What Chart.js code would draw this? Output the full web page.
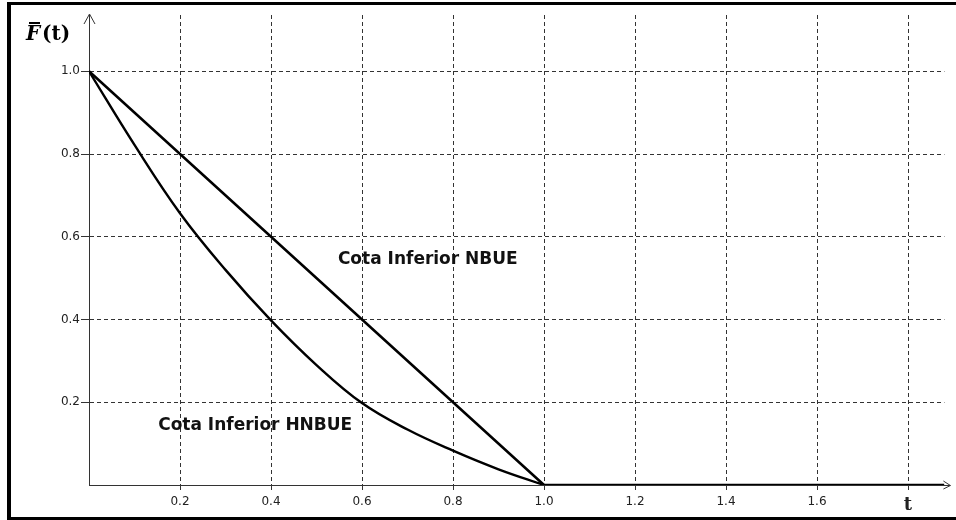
<!DOCTYPE html>
<html>
<head>
<meta charset="utf-8">
<script src="https://cdn.jsdelivr.net/npm/chart.js@4.4.1/dist/chart.umd.min.js"></script>
<style>
  body { margin: 0; background: #fff; }
  #wrap { width: 956px; height: 520px; position: relative; }
</style>
</head>
<body>
<div id="wrap"><canvas id="chart"></canvas></div>
<script>
// t values and survival bounds
const nbueT = [0, 1.0, 1.88];
const nbueF = [1, 0, 0];
const hnbueT = [0, 0.1, 0.2, 0.3, 0.4, 0.5, 0.6, 0.7, 0.8, 0.9, 1.0];
const hnbueF = [1, 0.822, 0.657, 0.52, 0.398, 0.29, 0.198, 0.134, 0.083, 0.038, 0];

const xTicks = [0.2, 0.4, 0.6, 0.8, 1.0, 1.2, 1.4, 1.6, 1.8];
const xTickLabels = ['0.2', '0.4', '0.6', '0.8', '1.0', '1.2', '1.4', '1.6', 't'];
const yTicks = [0.2, 0.4, 0.6, 0.8, 1.0];
const yTickLabels = ['0.2', '0.4', '0.6', '0.8', '1.0'];

const curveLabels = ['Cota Inferior NBUE', 'Cota Inferior HNBUE'];

const toPoints = (xs, ys) => xs.map((x, i) => ({ x: x, y: ys[i] }));

const tickFont = { family: 'DejaVu Sans', size: 12 };

// frame, arrows, axis title and curve names
const decor = {
  id: 'decor',
  beforeDraw(chart) {
    const c = chart.ctx;
    c.save();
    c.fillStyle = '#fff';
    c.fillRect(0, 0, chart.width, chart.height);
    c.fillStyle = '#000';
    c.fillRect(7, 2, 4, 518);
    c.fillRect(7, 2, 949, 3);
    c.fillRect(7, 517, 949, 3);
    c.restore();
  },
  afterDraw(chart) {
    const c = chart.ctx;
    const a = chart.chartArea;
    const xs = chart.scales.x, ys = chart.scales.y;
    c.save();
    c.strokeStyle = '#333';
    c.lineWidth = 1;
    // axis arrows
    c.beginPath();
    c.moveTo(a.right, a.bottom + 0.5);
    c.lineTo(a.right + 6, a.bottom + 0.5);
    c.moveTo(a.right - 1, a.bottom - 4);
    c.lineTo(a.right + 6, a.bottom + 0.5);
    c.lineTo(a.right - 1, a.bottom + 4);
    c.moveTo(a.left - 5, a.top + 9);
    c.lineTo(a.left + 0.5, a.top - 1);
    c.lineTo(a.left + 6, a.top + 9);
    c.stroke();

    // F bar (t)
    c.fillStyle = '#000';
    c.textBaseline = 'alphabetic';
    c.textAlign = 'left';
    c.font = 'italic bold 20px "DejaVu Serif"';
    c.fillText('F', 26, 40);
    c.fillRect(29, 22, 11, 2);
    c.font = 'bold 20px "DejaVu Serif"';
    c.fillText('(t)', 42, 40);

    // curve names
    c.font = 'bold 17px "DejaVu Sans"';
    c.textBaseline = 'middle';
    c.fillStyle = '#111';
    c.fillText(curveLabels[0], xs.getPixelForValue(0.547), ys.getPixelForValue(0.544));
    c.fillText(curveLabels[1], xs.getPixelForValue(0.152), ys.getPixelForValue(0.143));
    c.restore();
  }
};

new Chart(document.getElementById('chart'), {
  type: 'line',
  data: {
    datasets: [
      {
        label: curveLabels[0],
        data: toPoints(nbueT, nbueF),
        borderColor: '#000',
        borderWidth: 2.6,
        pointRadius: 0,
        tension: 0
      },
      {
        label: curveLabels[1],
        data: toPoints(hnbueT, hnbueF),
        borderColor: '#000',
        borderWidth: 2.4,
        pointRadius: 0,
        tension: 0.4
      }
    ]
  },
  options: {
    responsive: true,
    maintainAspectRatio: false,
    animation: false,
    layout: { padding: { left: 0, top: 15, right: 11.6, bottom: 0 } },
    plugins: {
      legend: { display: false },
      tooltip: { enabled: false }
    },
    scales: {
      x: {
        type: 'linear',
        min: 0,
        max: 1.88,
        afterBuildTicks: s => { s.ticks = xTicks.map(v => ({ value: v })); },
        afterFit: s => { s.height = 35; },
        border: { display: true, color: '#333', width: 1, dash: [4, 3] },
        grid: {
          color: '#333',
          lineWidth: 1,
          tickLength: 5,
          tickColor: '#333',
          tickBorderDash: [],
          tickWidth: 1
        },
        ticks: {
          autoSkip: false,
          maxRotation: 0,
          padding: 5,
          color: '#222',
          font: ctx => (ctx.tick && ctx.tick.value === 1.8)
            ? { family: 'DejaVu Serif', size: 18, weight: 'bold' }
            : tickFont,
          callback: v => {
            const i = xTicks.findIndex(t => Math.abs(t - v) < 1e-6);
            return i >= 0 ? xTickLabels[i] : '';
          }
        }
      },
      y: {
        type: 'linear',
        min: 0,
        max: 1.136,
        afterBuildTicks: s => { s.ticks = yTicks.map(v => ({ value: v })); },
        afterFit: s => { s.width = 89; },
        border: { display: true, color: '#333', width: 1, dash: [4, 3] },
        grid: {
          color: '#333',
          lineWidth: 1,
          tickLength: 8,
          tickColor: '#333',
          tickBorderDash: [],
          tickWidth: 1
        },
        ticks: {
          padding: 1,
          color: '#222',
          font: tickFont,
          callback: v => {
            const i = yTicks.findIndex(t => Math.abs(t - v) < 1e-6);
            return i >= 0 ? yTickLabels[i] : '';
          }
        }
      }
    }
  },
  plugins: [decor]
});
</script>
</body>
</html>
